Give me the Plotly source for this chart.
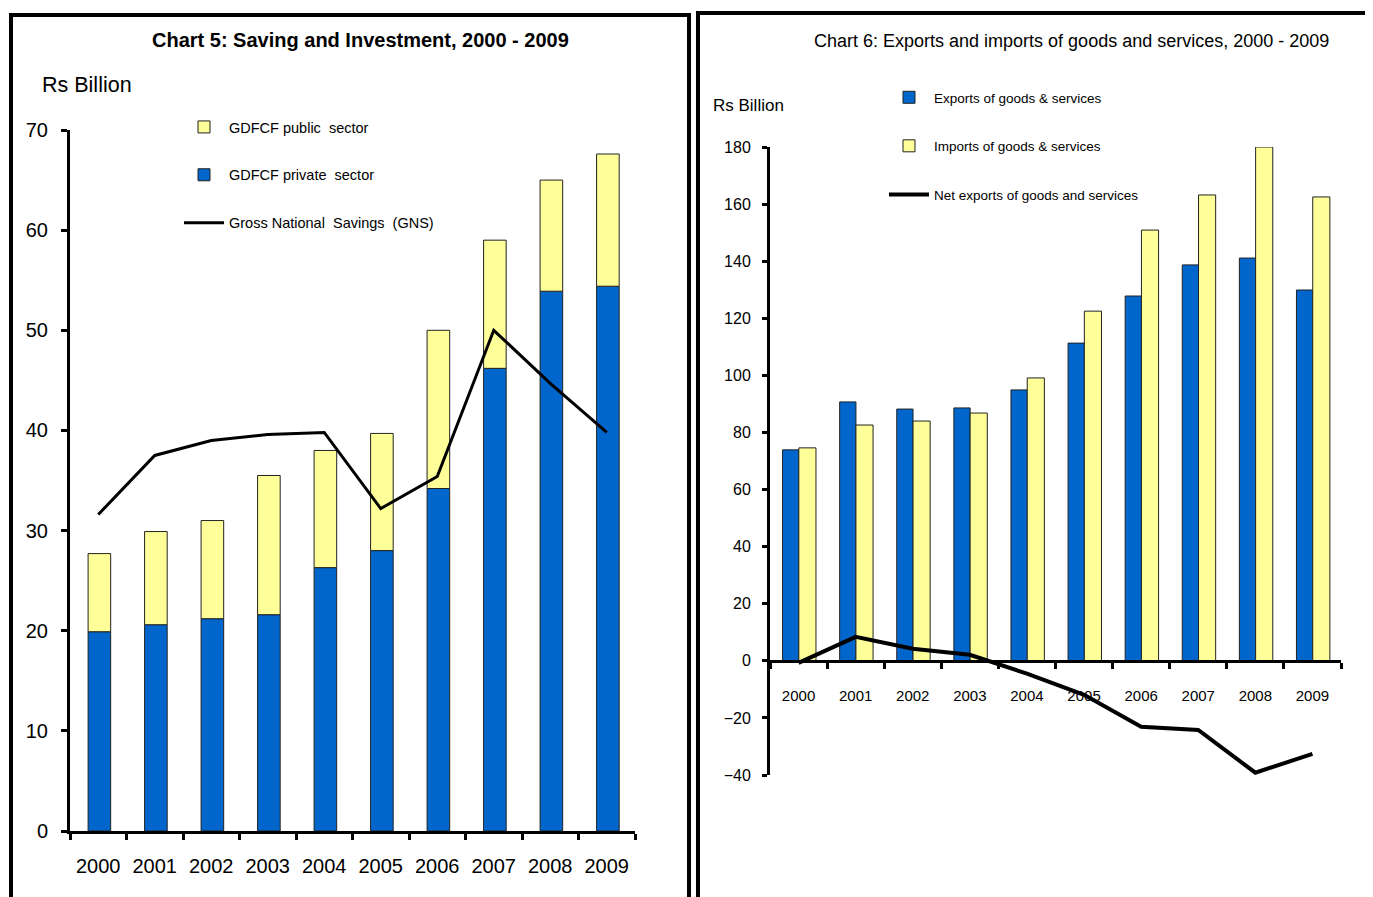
import plotly.graph_objects as go

W, H = 1373, 897
PAGE_OFFSET = 8  # default body margin of the written page

years = ["2000", "2001", "2002", "2003", "2004", "2005", "2006", "2007", "2008", "2009"]

# Chart 5 (Rs Billion)
gdfcf_private = [19.9, 20.6, 21.2, 21.6, 26.3, 28.0, 34.2, 46.2, 53.9, 54.4]
gdfcf_public = [7.8, 9.3, 9.8, 13.9, 11.7, 11.7, 15.8, 12.8, 11.1, 13.2]
gns = [31.6, 37.5, 39.0, 39.6, 39.8, 32.2, 35.4, 50.0, 44.7, 39.8]

# Chart 6 (Rs Billion)
exports = [73.9, 90.7, 88.2, 88.6, 94.9, 111.3, 127.8, 138.7, 141.1, 129.9]
imports = [74.6, 82.6, 84.0, 86.8, 99.1, 122.5, 150.9, 163.2, 180.0, 162.5]
net_exports = [-0.7, 8.4, 4.2, 2.1, -4.5, -11.9, -23.1, -24.2, -39.2, -32.6]

left_ticks = [0, 10, 20, 30, 40, 50, 60, 70]
right_ticks = [-40, -20, 0, 20, 40, 60, 80, 100, 120, 140, 160, 180]

BLUE = "#0066CC"
YELLOW = "#FFFF99"
ARIAL = "Liberation Sans, Arial, sans-serif"
NARROW = "Liberation Sans Narrow, Arial Narrow, Liberation Sans, Arial, sans-serif"

def px(x):
    return (x - PAGE_OFFSET) / W

def py(y):
    return 1 - (y - PAGE_OFFSET) / H

fig = go.Figure()

# ---- Left chart ----
fig.add_trace(go.Bar(
    x=years, y=gdfcf_private, name="GDFCF private  sector",
    marker=dict(color=BLUE, line=dict(color="#222222", width=1)),
    offset=-0.18, width=0.4, xaxis="x", yaxis="y",
    legend="legend", legendgroup="b", legendrank=2,
))
fig.add_trace(go.Bar(
    x=years, y=gdfcf_public, base=gdfcf_private, name="GDFCF public  sector",
    marker=dict(color=YELLOW, line=dict(color="#222222", width=1)),
    offset=-0.18, width=0.4, xaxis="x", yaxis="y",
    legend="legend", legendgroup="a", legendrank=1,
))
fig.add_trace(go.Scatter(
    x=years, y=gns, name="Gross National  Savings  (GNS)", mode="lines",
    line=dict(color="black", width=3), xaxis="x", yaxis="y",
    legend="legend", legendgroup="c", legendrank=3,
))

# ---- Right chart ----
fig.add_trace(go.Bar(
    x=years, y=exports, name="Exports of goods & services",
    marker=dict(color=BLUE, line=dict(color="#222222", width=1)),
    offset=-0.28, width=0.285, xaxis="x2", yaxis="y2",
    legend="legend2", legendgroup="d", legendrank=1,
))
fig.add_trace(go.Bar(
    x=years, y=imports, name="Imports of goods & services",
    marker=dict(color=YELLOW, line=dict(color="#222222", width=1)),
    offset=0.005, width=0.3, xaxis="x2", yaxis="y2",
    legend="legend2", legendgroup="e", legendrank=2,
))
fig.add_trace(go.Scatter(
    x=years, y=net_exports, name="Net exports of goods and services", mode="lines",
    line=dict(color="black", width=4), xaxis="x2", yaxis="y2",
    legend="legend2", legendgroup="f", legendrank=3,
))

y2_dom = [py(775), py(147)]
y2_range = [-40, 180]
zero_pos = y2_dom[0] + (0 - y2_range[0]) / (y2_range[1] - y2_range[0]) * (y2_dom[1] - y2_dom[0])

fig.update_layout(
    width=W, height=H,
    margin=dict(l=0, r=0, t=0, b=0, autoexpand=False),
    paper_bgcolor="white", plot_bgcolor="white",
    barmode="overlay",
    font=dict(family=ARIAL, color="black"),
    xaxis=dict(
        domain=[px(70), px(635)], anchor="y", automargin=False,
        showline=True, linecolor="black", linewidth=3,
        ticks="outside", tickson="boundaries", ticklen=6, tickwidth=3, tickcolor="black",
        tickfont=dict(size=20, family=ARIAL), ticklabelstandoff=15,
        showgrid=False, zeroline=False,
    ),
    yaxis=dict(
        domain=[py(831), py(130)], anchor="x", range=[0, 70], automargin=False,
        tickvals=left_ticks,
        showline=True, linecolor="black", linewidth=3,
        ticks="outside", ticklen=6, tickwidth=3, tickcolor="black",
        tickfont=dict(size=20, family=ARIAL), ticklabelstandoff=9,
        showgrid=False, zeroline=False,
    ),
    xaxis2=dict(
        domain=[px(770), px(1341)], anchor="free", position=zero_pos, automargin=False,
        showline=True, linecolor="black", linewidth=3,
        ticks="outside", tickson="boundaries", ticklen=6, tickwidth=3, tickcolor="black",
        tickfont=dict(size=15, family=NARROW), ticklabelstandoff=20,
        showgrid=False, zeroline=False,
    ),
    yaxis2=dict(
        domain=y2_dom, anchor="x2", range=y2_range, automargin=False,
        tickvals=right_ticks,
        showline=True, linecolor="black", linewidth=3,
        ticks="outside", ticklen=5, tickwidth=3, tickcolor="black",
        tickfont=dict(size=16, family=NARROW), ticklabelstandoff=8,
        showgrid=False, zeroline=False,
    ),
    legend=dict(
        x=px(179), y=py(111), xanchor="left", yanchor="top",
        font=dict(size=14.5, family=ARIAL), bgcolor="rgba(0,0,0,0)",
        tracegroupgap=26, itemwidth=40, traceorder="grouped",
    ),
    legend2=dict(
        x=px(884), y=py(82), xanchor="left", yanchor="top",
        font=dict(size=13.5, family=NARROW), bgcolor="rgba(0,0,0,0)",
        tracegroupgap=28, itemwidth=40, traceorder="grouped",
    ),
    showlegend=True,
)

# Panel borders
fig.add_shape(type="rect", xref="paper", yref="paper",
              x0=px(11), x1=px(689), y0=-0.05, y1=py(15),
              line=dict(color="black", width=4), fillcolor="rgba(0,0,0,0)", layer="above")
fig.add_shape(type="rect", xref="paper", yref="paper",
              x0=px(698), x1=px(1400), y0=-0.05, y1=py(13),
              line=dict(color="black", width=4), fillcolor="rgba(0,0,0,0)", layer="above")

# Titles and unit labels
fig.add_annotation(text="<b>Chart 5: Saving and Investment, 2000 - 2009</b>",
                   xref="paper", yref="paper", x=px(360), y=py(40),
                   xanchor="center", yanchor="middle", showarrow=False,
                   font=dict(size=20, family=ARIAL))
fig.add_annotation(text="Rs Billion", xref="paper", yref="paper", x=px(40), y=py(85),
                   xanchor="left", yanchor="middle", showarrow=False,
                   font=dict(size=21.5, family=ARIAL))
fig.add_annotation(text="Chart 6: Exports and imports of goods and services, 2000 - 2009",
                   xref="paper", yref="paper", x=px(1071), y=py(41),
                   xanchor="center", yanchor="middle", showarrow=False,
                   font=dict(size=18, family=NARROW))
fig.add_annotation(text="Rs Billion", xref="paper", yref="paper", x=px(711), y=py(105),
                   xanchor="left", yanchor="middle", showarrow=False,
                   font=dict(size=17, family=NARROW))

fig.write_html("out.html")
